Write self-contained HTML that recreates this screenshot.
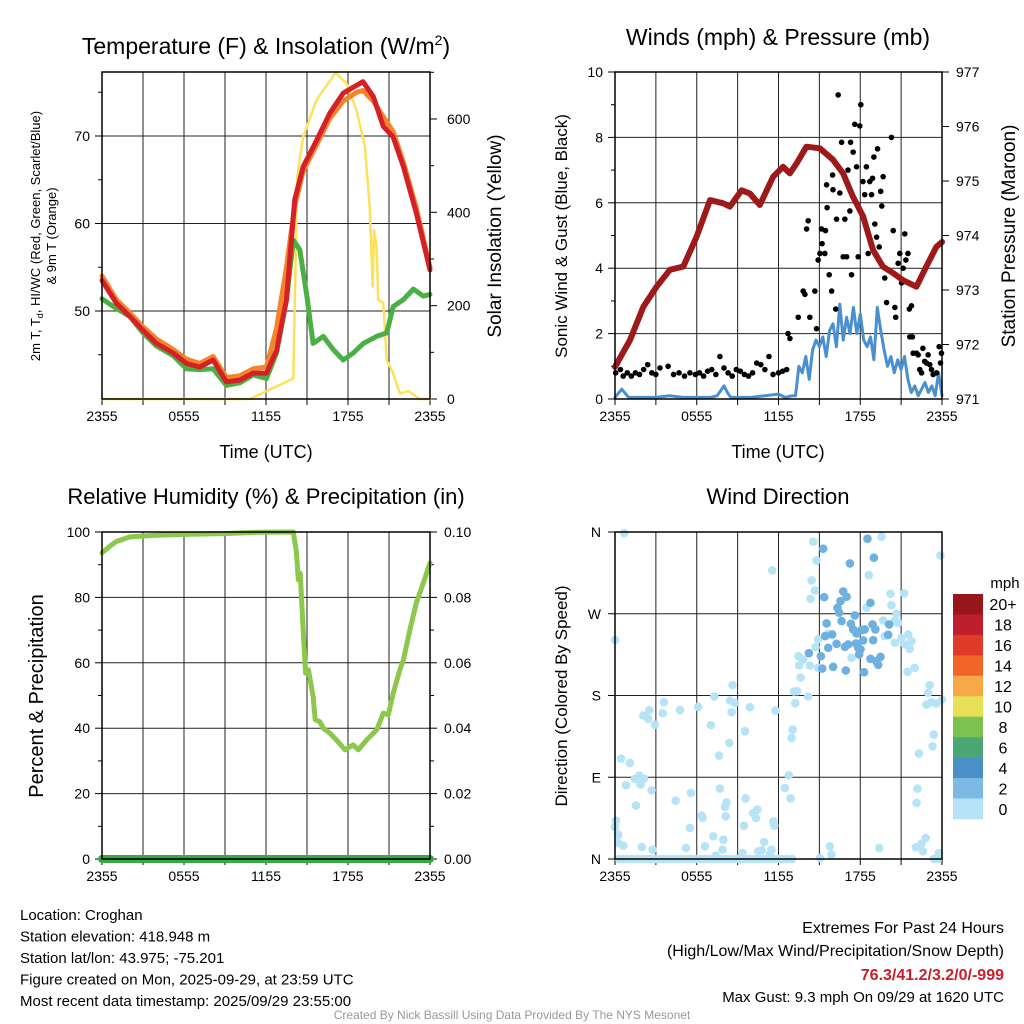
<!DOCTYPE html>
<html><head><meta charset="utf-8"><style>
html,body{margin:0;padding:0;background:#fff;}
svg{display:block;font-family:"Liberation Sans",Arial,sans-serif;}
</style></head><body>
<svg id="c" width="1024" height="1024" viewBox="0 0 1024 1024"></svg>
<script>
// ---------- data ----------
const tempHours=[0,1.05,2.03,3.0,3.98,5.2,6.18,7.15,8.13,9.1,10.08,11.06,12.04,12.77,13.5,14.1,14.72,15.7,16.67,17.65,18.63,19.1,19.85,20.58,21.3,22.05,23.0,24];
const tempRed=[53.5,50.9,49.4,47.8,46.3,45.2,44.0,43.6,44.4,41.9,42.1,42.9,42.9,45.5,51.3,62.7,66.5,69.5,72.6,74.9,75.8,76.2,74.5,71.1,69.9,66.5,61.2,54.7];
const tempOrange=[54.0,51.3,49.8,48.2,46.8,45.6,44.5,44.0,44.8,42.4,42.6,43.4,43.6,48.0,55.0,62.0,66.0,69.0,72.0,74.0,75.0,75.2,74.0,72.2,70.5,67.0,61.8,55.0];
const dewHours=[0,1.05,2.03,3.0,3.98,5.2,6.18,7.15,8.13,9.1,10.08,11.06,12.04,12.77,13.5,14.0,14.47,14.96,15.45,16.19,16.92,17.65,18.39,19.12,20.09,20.83,21.31,22.05,22.78,23.51,24];
const dewGreen=[51.4,50.3,49.4,47.5,46.0,44.9,43.4,43.3,43.4,41.5,41.8,42.7,42.3,45.2,51.3,58.1,57.0,52.0,46.3,47.1,45.6,44.4,45.2,46.3,47.1,47.5,50.5,51.3,52.5,51.7,51.9];
const solarHours=[0,10.82,14.0,14.28,14.72,15.7,17.09,17.9,18.63,19.24,19.6,19.8,19.9,20.09,20.21,20.58,20.83,21.31,21.8,22.41,23.26,24];
const solarVals=[0,0,44,476,562,641,699,676,618,541,405,241,362,326,212,206,84,55,12,17,0,0];
const tempTicks=[50,60,70];
const solarTicks=[0,200,400,600];
const timeLabels=["2355","0555","1155","1755","2355"];

const presHours=[0,1.1,2.08,3.05,4.03,5.01,5.99,6.97,7.94,8.43,9.29,9.9,10.63,11.61,12.34,12.83,13.32,14.05,15.03,16.0,16.74,17.47,18.21,18.94,19.66,20.41,21.14,22.12,22.85,23.58,24];
const presVals=[971.59,972.08,972.69,973.06,973.37,973.43,973.98,974.65,974.59,974.53,974.83,974.77,974.56,975.08,975.26,975.14,975.32,975.63,975.6,975.39,975.14,974.71,974.35,973.73,973.43,973.31,973.18,973.06,973.43,973.79,973.88];
const windHours=[0,0.5,1,2,3,4,5,6,7,7.5,8,8.25,8.5,9,10,11,12,12.5,13,13.25,13.5,13.75,14,14.25,14.5,14.75,15,15.25,15.5,15.75,16,16.25,16.5,16.75,17,17.25,17.5,17.75,18,18.25,18.5,18.75,19,19.25,19.5,19.75,20,20.25,20.5,20.75,21,21.25,21.5,21.75,22,22.25,22.5,22.75,23,23.25,23.5,23.75,24];
const windVals=[0.05,0.3,0.05,0.05,0.05,0.1,0.05,0.05,0.05,0.1,0.4,0.2,0.05,0.05,0.05,0.1,0.15,0.05,0.1,0.1,1.0,0.8,1.3,0.6,1.5,1.8,1.6,1.9,1.3,2.1,2.3,1.6,2.9,1.8,2.5,2.0,2.8,2.0,2.6,1.8,1.6,1.9,1.2,2.8,2.1,1.5,1.0,1.3,0.8,1.2,0.9,1.3,0.6,0.2,0.4,0.1,0.3,0.5,0.2,0.4,0.1,0.8,0.1];
const gustHours=[0.05,0.2,0.4,0.6,0.9,1.2,1.5,1.8,2.1,2.4,2.7,3.0,3.3,3.9,4.3,4.7,5.1,5.5,5.9,6.2,6.5,6.8,7.1,7.4,7.7,8.0,8.3,8.6,8.9,9.2,9.5,9.8,10.1,10.4,10.7,11.0,11.3,11.6,12.0,12.3,12.6,12.7,12.84,13.45,13.81,13.94,14.06,14.18,14.3,14.67,14.79,14.91,15.04,15.16,15.2,15.4,15.45,15.53,15.57,15.72,15.9,15.97,16.0,16.2,16.26,16.38,16.5,16.63,16.75,16.87,17.0,17.1,17.24,17.29,17.36,17.48,17.6,17.73,17.85,17.97,18.04,18.2,18.33,18.45,18.58,18.7,18.83,18.9,19.0,19.07,19.2,19.27,19.39,19.5,19.58,19.68,19.8,19.93,20.29,20.42,20.54,20.6,20.78,20.9,21.03,21.15,21.27,21.35,21.5,21.6,21.76,21.64,21.83,21.88,22.13,22.25,22.37,22.5,22.6,22.73,22.86,22.98,23.1,23.23,23.35,23.6,23.79,23.96,23.89];
const gustVals=[0.8,1.1,0.9,0.7,0.8,0.7,0.8,0.75,0.9,1.05,0.8,0.75,0.95,1.0,0.75,0.8,0.7,0.8,0.75,0.8,0.7,0.85,0.9,0.75,1.3,0.95,0.8,0.7,0.9,0.85,0.75,0.7,0.8,1.1,1.05,0.9,1.3,0.75,0.8,0.85,0.9,2.0,1.85,2.5,3.3,3.2,5.2,5.45,2.5,3.3,2.15,4.25,4.45,5.2,4.75,4.45,5.15,6.55,5.85,3.8,3.3,6.85,6.4,2.75,5.5,9.3,6.3,7.85,4.35,5.5,4.35,7.0,5.75,7.85,3.8,7.55,8.4,7.1,4.35,8.35,9.0,6.65,6.25,7.1,4.45,6.65,6.25,6.75,7.4,5.35,4.95,7.65,4.65,6.35,5.9,6.8,3.7,2.95,8.0,5.15,2.8,2.5,4.15,4.45,3.55,4.0,5.05,4.25,4.45,2.75,2.85,1.9,1.9,1.4,1.4,1.35,0.9,0.8,1.55,1.15,1.1,1.35,1.05,0.9,0.75,0.8,1.6,1.4,1.1];
const windTicks=[0,2,4,6,8,10];
const presTicks=[971,972,973,974,975,976,977];

const rhHours=[0,0.56,1.05,2.03,3.98,6.4,8.86,11.3,14.0,14.23,14.36,14.5,14.72,14.9,15.1,15.45,15.6,15.94,16.19,16.67,17.16,17.77,18.38,18.75,19.36,20.1,20.58,20.95,21.31,21.8,22.05,22.53,23.0,23.51,24];
const rhVals=[93.6,95.6,97.1,98.5,99,99.3,99.5,99.9,100,93.6,85.4,87.4,70.1,56.8,57.9,49.7,42.6,42,40,38.5,36.4,33.4,34.9,33.4,36.4,39.5,44.6,44.1,50.7,57.9,60.9,70.1,78.3,84.4,90.5];
const precipHours=[0,24];
const precipVals=[0,0];
const rhTicks=[0,20,40,60,80,100];
const precipTicks=["0.00","0.02","0.04","0.06","0.08","0.10"];

const dirLightHours=[0.68,0,0.44,1.1,0.81,1.47,1.78,2.13,1.88,2.69,1.54,2.08,2.52,2.44,2.93,3.59,3.5,4.77,4.45,5.57,5.5,6.11,6.36,6.43,7.04,7.29,7.63,7.7,8.07,8.19,8.12,8.39,8.44,8.63,8.56,8.8,9.54,9.58,9.46,9.9,10.15,10.44,10.34,11.61,11.69,10.95,11.49,11.78,11.54,12.47,12.76,12.89,12.96,13.04,13.23,13.13,13.37,13.62,13.47,13.52,13.81,14.18,14.3,14.43,14.35,14.67,14.55,14.79,14.72,14.91,14.91,15.65,15.77,15.89,15.04,17.36,18.63,18.46,19.39,19.56,19.68,19.8,20.22,20.29,20.54,20.66,20.78,20.54,21.03,21.22,21.27,21.52,21.76,21.64,21.47,22.0,23.1,22.98,22.86,23.23,23.59,24,23.4,23.3,22.3,22.2,22.13,22.8,22.48,22.08,22.6,23.77,23.89,0.07,0,0.24,0.24,0.61,1.96,2.76,5.21,6.6,7.21,7.95,7.9,7.4,9.36,10.51,10.76,11.37,
0.3,0.6,0.9,1.2,1.5,1.8,2.1,2.4,2.7,3.0,3.3,3.6,3.9,4.2,4.5,4.8,5.1,5.4,5.7,6.0,6.3,6.6,6.9,7.2,7.5,7.8,8.1,8.4,8.7,9.0,9.3,9.6,9.9,10.2,10.5,10.8,11.1,11.4,11.7,12.0,12.3,12.6,13.0,23.4,23.7];
const dirLightVals=[359,241,110.6,105.8,81.2,88.2,91.8,88.5,81.9,75.7,58.8,157.9,163.8,154.3,147.7,172.6,160.5,163.8,64.3,72.7,34.2,167.5,47.8,45.2,147.3,178.9,113.9,77.5,57.3,62.4,47,127.8,174.5,191.4,161.6,171.9,140.7,66.8,36.7,167.1,50.7,54.4,45.2,41.5,36.7,18.7,10.3,163.4,317.7,78.2,92.2,66.8,133.3,142.5,171.5,184.4,184.7,199.8,223.3,213.4,219.6,178.9,213,306.7,286.5,295.7,349.3,328.7,233.2,241.7,210.5,247.9,14,4.8,1,221.5,312.6,276.6,12.1,354.8,262.6,245.4,292,279.5,262.6,270,260,238,243.5,292.4,236.2,247.2,239.9,231.4,206.1,210.5,191.4,182.9,170,172.6,171.2,175.6,137,124.1,116.1,77.5,61.7,23.1,16.9,12.9,8.4,6.6,334.2,42.2,35.3,26.8,17.6,14.7,13.2,10.3,12.1,14,25,21.3,10.3,3.7,6.6,8.4,9.5,5.5,
0,0,0,0,0,0,0,0,0,0,0,0,0,0,0,0,0,0,0,0,0,0,0,0,0,0,0,0,0,0,0,0,0,0,0,0,0,0,0,0,0,0,0,0,0];
const dirMidHours=[14.23,15.11,15.21,15.28,15.35,15.53,15.43,15.65,15.94,16.01,16.26,16.33,16.45,16.55,16.63,16.75,17.0,16.87,16.94,17.11,17.24,17.31,17.48,17.6,17.68,17.73,17.85,17.92,18.02,18.09,18.33,18.21,18.28,18.53,18.75,18.75,18.95,18.9,19.0,19.11,19.19,19.32,19.49,20.05,20.12];
const dirMidVals=[226.6,223.3,209.7,341.6,288.3,259.3,245.4,232.5,247.2,211.6,236.9,276.6,271.1,283.9,261.9,294.6,288.7,233.6,207.5,236.2,325.4,258.9,252.7,268.1,237.3,248.3,232.5,225.2,230.7,252,252.7,240.6,205.7,352.6,220.4,282,240.9,258.2,331.7,252.7,217.8,213.8,222.6,246.8,258.2];
const dirTicks=["N","E","S","W","N"];
const cbLabels=["20+","18","16","14","12","10","8","6","4","2","0"];
const cbColors=["#97171c","#bf1e2d","#e03a2b","#f26529","#f8a947","#e9e05a","#7cc24e","#4aa774","#4a8fc6","#7cb9e5","#b7e3f7"];

// ---------- drawing ----------
const NS="http://www.w3.org/2000/svg";
const svg=document.getElementById('c');
function mk(tag,attrs,parent){const e=document.createElementNS(NS,tag);for(const k in attrs)e.setAttribute(k,attrs[k]);(parent||svg).appendChild(e);return e;}
function txt(s,x,y,size,anchor,parent,extra){const t=mk('text',Object.assign({x:x,y:y,'font-size':size,'text-anchor':anchor||'middle',fill:'#000'},extra||{}),parent);t.textContent=s;return t;}
function lineS(x1,y1,x2,y2,parent,w,col){return mk('line',{x1:x1,y1:y1,x2:x2,y2:y2,stroke:col||'#000','stroke-width':w||1},parent);}

function panel(name,x0,x1,y0,y1){
  const g=mk('g',{});
  
  
  const P={g,x0,x1,y0,y1,xs:h=>x0+h/24*(x1-x0)};
  // vertical grid lines every 3h
  for(let i=0;i<=8;i++){const x=P.xs(i*3);const l=lineS(x,y0,x,y1,g,1,'#222');
    lineS(x,y1,x,y1+6,g,1);}
  for(let i=0;i<5;i++){const t=txt(timeLabels[i],P.xs(i*6),y1+22,14,'middle',g);}
  return P;
}
function frame(P){const r=mk('rect',{x:P.x0,y:P.y0,width:P.x1-P.x0,height:P.y1-P.y0,fill:'none',stroke:'#000','stroke-width':1.5},P.g);}
function path(P,hs,vs,ys,col,w,name){let d='';for(let i=0;i<hs.length;i++)d+=(i?'L':'M')+P.xs(hs[i]).toFixed(1)+','+ys(vs[i]).toFixed(1);
  const p=mk('path',{d:d,fill:'none',stroke:col,'stroke-width':w,'stroke-linejoin':'round','stroke-linecap':'round'},P.g);
  return p;}

// ===== Panel 1 =====
const P1=panel('temperature-panel',102,430,72,399);
const tY=t=>136+(70-t)*8.75;
const sY=v=>399-v*0.4667;
tempTicks.forEach(t=>{const y=tY(t);lineS(P1.x0,y,P1.x1,y,P1.g,1,'#222');lineS(P1.x0-7,y,P1.x0,y,P1.g);
  const l=txt(String(t),P1.x0-12,y+5,14,'end',P1.g);});
[45,55,65,75].forEach(t=>lineS(P1.x0-4,tY(t),P1.x0,tY(t),P1.g));
solarTicks.forEach(v=>{const y=sY(v);lineS(P1.x1,y,P1.x1+7,y,P1.g);
  const l=txt(String(v),P1.x1+17,y+5,14,'start',P1.g);});
[100,300,500,700].forEach(v=>lineS(P1.x1,sY(v),P1.x1+4,sY(v),P1.g));
path(P1,solarHours,solarVals,sY,'#fde15a',2.5,'solar-insolation-line');
path(P1,dewHours,dewGreen,tY,'#4bb043',5,'dewpoint-line');
path(P1,tempHours,tempOrange,tY,'#f5832a',5,'temp-9m-line');
path(P1,tempHours,tempRed,tY,'#d42027',5,'temp-2m-line');
frame(P1);
let t1=mk('text',{x:266,y:54,'font-size':23,'text-anchor':'middle'});t1.innerHTML='Temperature (F) &amp; Insolation (W/m<tspan dy="-9" font-size="14">2</tspan><tspan dy="9">)</tspan>';

let a1=txt('Time (UTC)',266,458,18);
let y1t=mk('text',{transform:'translate(40,236) rotate(-90)','font-size':13,'text-anchor':'middle'});y1t.innerHTML='2m T, T<tspan dy="3" font-size="9">d</tspan><tspan dy="-3">, HI/WC (Red, Green, Scarlet/Blue)</tspan>';

let y1t2=txt('& 9m T (Orange)',0,0,13,'middle',svg,{transform:'translate(56,236) rotate(-90)'});
let y1r=txt('Solar Insolation (Yellow)',0,0,19,'middle',svg,{transform:'translate(501,236) rotate(-90)'});

// ===== Panel 2 =====
const P2=panel('winds-panel',615,942,72,399);
const wY=v=>399-v*32.7;
const pY=v=>399-(v-971)*54.5;
windTicks.forEach(v=>{const y=wY(v);lineS(P2.x0,y,P2.x1,y,P2.g,1,'#222');lineS(P2.x0-7,y,P2.x0,y,P2.g);
  const l=txt(String(v),P2.x0-12,y+5,14,'end',P2.g);});
[1,3,5,7,9].forEach(v=>lineS(P2.x0-4,wY(v),P2.x0,wY(v),P2.g));
presTicks.forEach(v=>{const y=pY(v);lineS(P2.x1,y,P2.x1+7,y,P2.g);
  const l=txt(String(v),P2.x1+14,y+5,14,'start',P2.g);});
path(P2,windHours,windVals,wY,'#4a90d0',3,'sustained-wind-line');
for(let i=0;i<gustHours.length;i++){const c=mk('circle',{cx:P2.xs(gustHours[i]),cy:wY(gustVals[i]),r:2.8,fill:'#000'},P2.g);
  
  }
path(P2,presHours,presVals,pY,'#9e1a1a',6,'pressure-line');
frame(P2);
let t2=txt('Winds (mph) & Pressure (mb)',778,45,23);
let a2=txt('Time (UTC)',778,458,18);
let y2l=txt('Sonic Wind & Gust (Blue, Black)',0,0,17,'middle',svg,{transform:'translate(567,236) rotate(-90)'});
let y2r=txt('Station Pressure (Maroon)',0,0,19,'middle',svg,{transform:'translate(1015,236) rotate(-90)'});

// ===== Panel 3 =====
const P3=panel('humidity-panel',102,430,532,859);
const rY=v=>859-v*3.27;
rhTicks.forEach((v,i)=>{const y=rY(v);lineS(P3.x0,y,P3.x1,y,P3.g,1,'#222');lineS(P3.x0-7,y,P3.x0,y,P3.g);lineS(P3.x1,y,P3.x1+7,y,P3.g);
  const l=txt(String(v),P3.x0-12,y+5,14,'end',P3.g);
  const r=txt(precipTicks[i],P3.x1+14,y+5,14,'start',P3.g);});
[10,30,50,70,90].forEach(v=>{lineS(P3.x0-4,rY(v),P3.x0,rY(v),P3.g);lineS(P3.x1,rY(v),P3.x1+4,rY(v),P3.g);});
path(P3,rhHours,rhVals,rY,'#8cc84b',5,'relative-humidity-line');
path(P3,precipHours,precipVals,rY,'#3aa845',8,'precipitation-line');
frame(P3);
let t3=txt('Relative Humidity (%) & Precipitation (in)',266,504,22);
let y3l=txt('Percent & Precipitation',0,0,20,'middle',svg,{transform:'translate(43,696) rotate(-90)'});

// ===== Panel 4 =====
const P4=panel('wind-direction-panel',615,942,532,859);
const dY=v=>859-v/90*81.75;
dirTicks.forEach((s,i)=>{const y=dY(i*90);lineS(P4.x0,y,P4.x1,y,P4.g,1,'#222');lineS(P4.x0-7,y,P4.x0,y,P4.g);
  const l=txt(s,P4.x0-14,y+5,14,'end',P4.g);});
for(let i=0;i<dirLightHours.length;i++){const c=mk('circle',{cx:P4.xs(dirLightHours[i]),cy:dY(dirLightVals[i]),r:4.3,fill:'#b7e3f7'},P4.g);
  
  }
for(let i=0;i<dirMidHours.length;i++){const c=mk('circle',{cx:P4.xs(dirMidHours[i]),cy:dY(dirMidVals[i]),r:4.3,fill:'#6eb0e0'},P4.g);
  
  }
frame(P4);
let t4=txt('Wind Direction',778,504,22);
let y4l=txt('Direction (Colored By Speed)',0,0,17,'middle',svg,{transform:'translate(567,696) rotate(-90)'});

// colorbar
const cb=mk('g',{});
const bh=(819-594)/cbColors.length;
cbColors.forEach((col,i)=>{const r=mk('rect',{x:953,y:594+i*bh,width:30,height:bh+0.3,fill:col},cb);
  const l=txt(cbLabels[i],1003,594+i*bh+bh/2+6,16,'middle',cb);});
let mph=txt('mph',1005,588,15,'middle',cb);

// footer text
const info=["Location: Croghan","Station elevation: 418.948 m","Station lat/lon: 43.975; -75.201","Figure created on Mon, 2025-09-29, at 23:59 UTC","Most recent data timestamp: 2025/09/29 23:55:00"];
info.forEach((s,i)=>{const t=txt(s,20,920+i*21.5,15,'start');});
let e1=txt('Extremes For Past 24 Hours',1004,933,16,'end');
let e2=txt('(High/Low/Max Wind/Precipitation/Snow Depth)',1004,956,16,'end');
let e3=txt('76.3/41.2/3.2/0/-999',1004,980,16,'end',svg,{fill:'#c8202a','font-weight':'bold'});
let e4=txt('Max Gust: 9.3 mph On 09/29 at 1620 UTC',1004,1002,15,'end');
let cr=txt('Created By Nick Bassill Using Data Provided By The NYS Mesonet',512,1019,12,'middle',svg,{fill:'#999'});
</script>
</body></html>
